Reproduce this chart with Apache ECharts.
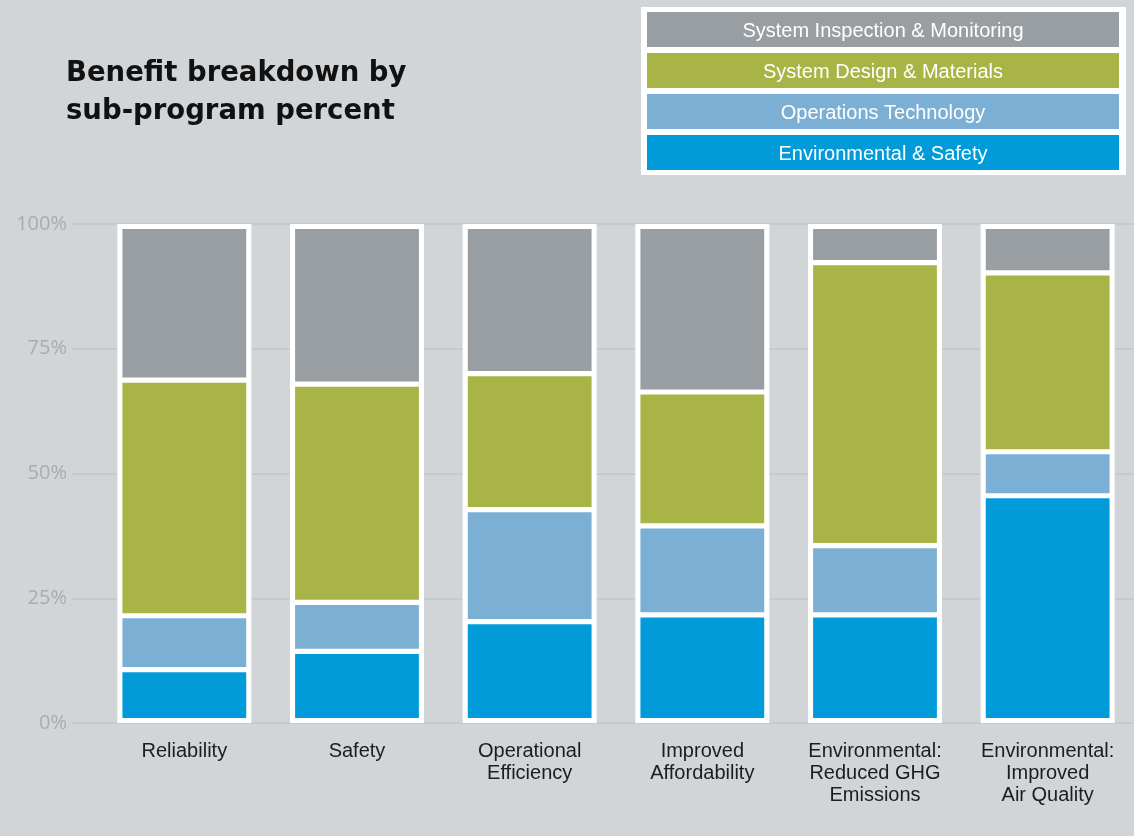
<!DOCTYPE html>
<html>
<head>
<meta charset="utf-8">
<script src="https://cdn.jsdelivr.net/npm/echarts@6/dist/echarts.min.js"></script>
<style>
  html, body { margin: 0; padding: 0; background: #d1d5d8; }
  #chart { width: 1134px; height: 836px; }
</style>
</head>
<body>
<div id="chart"></div>
<script>
// categories and stacked shares (percent)
const categories = [
  'Reliability',
  'Safety',
  'Operational\nEfficiency',
  'Improved\nAffordability',
  'Environmental:\nReduced GHG\nEmissions',
  'Environmental:\nImproved\nAir Quality'
];
const envSafety       = [10.3, 14.0, 20.0, 21.4, 21.4, 45.5];
const opsTech         = [10.9,  9.9, 22.7, 18.0, 14.0,  8.9];
const designMaterials = [47.7, 44.2, 27.5, 27.1, 57.3, 36.2];
const inspection      = [31.1, 31.9, 29.8, 33.5,  7.3,  9.4];
const frameTotal      = [100, 100, 100, 100, 100, 100];

const seriesNames  = ['Environmental & Safety', 'Operations Technology', 'System Design & Materials', 'System Inspection & Monitoring'];
const seriesValues = [envSafety, opsTech, designMaterials, inspection];
const seriesColors = ['#009bd8', '#7bafd4', '#a9b446', '#999ea2'];
const yTicks = [0, 25, 50, 75, 100];

const chart = echarts.init(document.getElementById('chart'));

// legend drawn as stacked boxes, top = last series
const legendGraphics = [{
  type: 'rect',
  shape: { x: 641, y: 7, width: 485, height: 168 },
  style: { fill: '#ffffff' }
}];
seriesNames.slice().reverse().forEach((name, i) => {
  const color = seriesColors[seriesNames.length - 1 - i];
  const y = 12 + i * 41;
  legendGraphics.push({
    type: 'rect',
    shape: { x: 647, y: y, width: 472, height: 35 },
    style: { fill: color }
  });
  legendGraphics.push({
    type: 'text',
    x: 883, y: y + 19,
    style: {
      text: name, fill: '#ffffff',
      font: '20px "Liberation Sans", sans-serif',
      align: 'center', verticalAlign: 'middle'
    }
  });
});

const option = {
  backgroundColor: '#d1d5d8',
  animation: false,
  title: {
    text: 'Benefit breakdown by\nsub-program percent',
    left: 61, top: 50,
    textStyle: {
      fontFamily: '"DejaVu Sans", sans-serif',
      fontWeight: 'bold', fontSize: 27.5, lineHeight: 38, color: '#111111'
    }
  },
  graphic: legendGraphics,
  grid: [
    // gridlines + y labels
    { left: 72, right: 0, top: 224, bottom: 113 },
    // coloured segments, inset a little inside the white frame
    { left: 98, width: 1047.6, top: 226.5, bottom: 115.5 },
    // white frame behind each bar
    { left: 98, width: 1047.6, top: 224, bottom: 113 }
  ],
  xAxis: [
    { gridIndex: 0, type: 'value', show: false, min: 0, max: 1 },
    {
      gridIndex: 1, type: 'category', data: categories,
      axisLine: { show: false }, axisTick: { show: false },
      axisLabel: {
        interval: 0, margin: 20,
        fontFamily: '"Liberation Sans", sans-serif',
        fontSize: 20, lineHeight: 22, color: '#1d1d1d'
      }
    },
    { gridIndex: 2, type: 'category', data: categories, show: false }
  ],
  yAxis: [
    {
      gridIndex: 0, type: 'value', min: yTicks[0], max: yTicks[yTicks.length - 1], interval: 25,
      axisLine: { show: false }, axisTick: { show: false },
      axisLabel: {
        formatter: '{value}%', margin: 5,
        fontFamily: '"Open Sans", sans-serif', fontSize: 20, color: '#a8acb0'
      },
      splitLine: { lineStyle: { color: '#c2c6c9', width: 1.5 } }
    },
    { gridIndex: 1, type: 'value', min: 0, max: 100, show: false },
    { gridIndex: 2, type: 'value', min: 0, max: 100, show: false }
  ],
  series: [{
    name: 'frame',
    type: 'bar',
    xAxisIndex: 2, yAxisIndex: 2,
    barWidth: 134,
    data: frameTotal,
    itemStyle: { color: '#ffffff' },
    z: 1
  }].concat(seriesNames.map((name, i) => ({
    name: name,
    type: 'bar',
    stack: 'total',
    xAxisIndex: 1, yAxisIndex: 1,
    barWidth: 129,
    data: seriesValues[i],
    itemStyle: { color: seriesColors[i], borderColor: '#ffffff', borderWidth: 2.6 },
    z: 2
  })))
};

chart.setOption(option);
</script>
</body>
</html>
